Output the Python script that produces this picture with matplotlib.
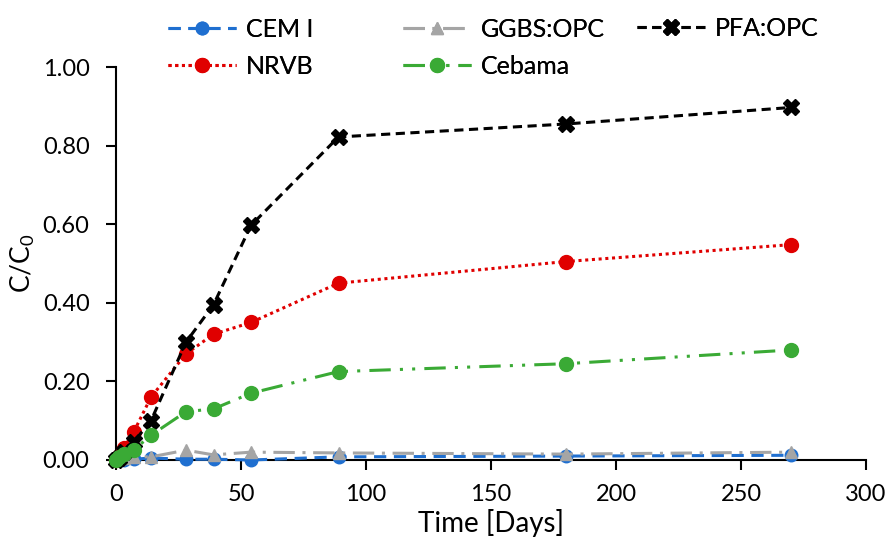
import numpy as np
import matplotlib
matplotlib.use("Agg")
import matplotlib.pyplot as plt

plt.rcParams['font.family'] = ['Lato', 'DejaVu Sans']
plt.rcParams['mathtext.default'] = 'regular'

# sampling times (days)
days = [0, 1, 3, 7, 14, 28, 39, 54, 89, 180, 270]

# C/C0 per mix
cem1 = [0.0, 0.0, 0.0, 0.002, 0.005, 0.002, 0.002, 0.0, 0.008, 0.010, 0.012]
ggbs = [0.0, 0.002, 0.005, 0.008, 0.008, 0.025, 0.013, 0.020, 0.018, 0.015, 0.020]
pfa = [0.0, 0.005, 0.020, 0.045, 0.100, 0.300, 0.395, 0.597, 0.822, 0.855, 0.897]
nrvb = [0.0, 0.010, 0.030, 0.070, 0.160, 0.270, 0.320, 0.350, 0.450, 0.505, 0.548]
cebama = [0.0, 0.008, 0.015, 0.025, 0.063, 0.123, 0.130, 0.170, 0.225, 0.245, 0.280]

W, H = 886, 543
fig = plt.figure(figsize=(W / 100, H / 100), dpi=100)
ax = fig.add_axes([116 / W, 1 - 460 / H, 750 / W, 393 / H])

lw = 2.2
h_cem, = ax.plot(days, cem1, color='#1f6fd0', lw=lw, dashes=(4, 2.5), marker='o', ms=9,
                 clip_on=False, zorder=3)
h_nrvb, = ax.plot(days, nrvb, color='#e00000', lw=lw, linestyle=(0, (1, 1.2)), marker='o',
                  ms=10, clip_on=False, zorder=4)
h_ggbs, = ax.plot(days, ggbs, color='#a5a5a5', lw=lw, dashes=(7, 2.5, 1, 2.5), marker='^',
                  ms=9, clip_on=False, zorder=3)
h_ceb, = ax.plot(days, cebama, color='#3aaa35', lw=lw, dashes=(7, 3, 1, 3, 1, 3), marker='o',
                 ms=10, clip_on=False, zorder=5)
h_pfa, = ax.plot(days, pfa, color='black', lw=lw, dashes=(3, 1.8), marker='X', ms=11,
                 clip_on=False, zorder=4)

ax.set_xlim(0, 300)
ax.set_ylim(0, 1.0)
ax.set_xticks(np.arange(0, 301, 50))
yt = np.arange(0, 1.01, 0.2)
ax.set_yticks(yt)
ax.set_yticklabels(['%.2f' % v for v in yt])
ax.tick_params(direction='out', length=7, width=1.5, labelsize=17)
ax.tick_params(axis='y', pad=12)
ax.tick_params(axis='x', pad=10)
for s in ['top', 'right']:
    ax.spines[s].set_visible(False)
for s in ['left', 'bottom']:
    ax.spines[s].set_linewidth(1.5)

ax.set_xlabel('Time [Days]', fontsize=20, labelpad=3)
ax.set_ylabel('C/C$_0$', fontsize=19, labelpad=4)

# Excel-style legend: three equally spaced columns above the plot
cols = [([h_cem, h_nrvb], ['CEM I', 'NRVB'], 168, 48),
        ([h_ggbs, h_ceb], ['GGBS:OPC', 'Cebama'], 403, 48),
        ([h_pfa], ['PFA:OPC'], 637, 28)]
for hs, labs, x0, yc in cols:
    leg = fig.legend(hs, labs, loc='center left', bbox_to_anchor=(x0 / W, 1 - yc / H),
                     frameon=False, fontsize=18, handlelength=2.7, handletextpad=0.4,
                     labelspacing=0.55, borderpad=0, borderaxespad=0)
    fig.add_artist(leg)

fig.savefig('out.png', dpi=100)
